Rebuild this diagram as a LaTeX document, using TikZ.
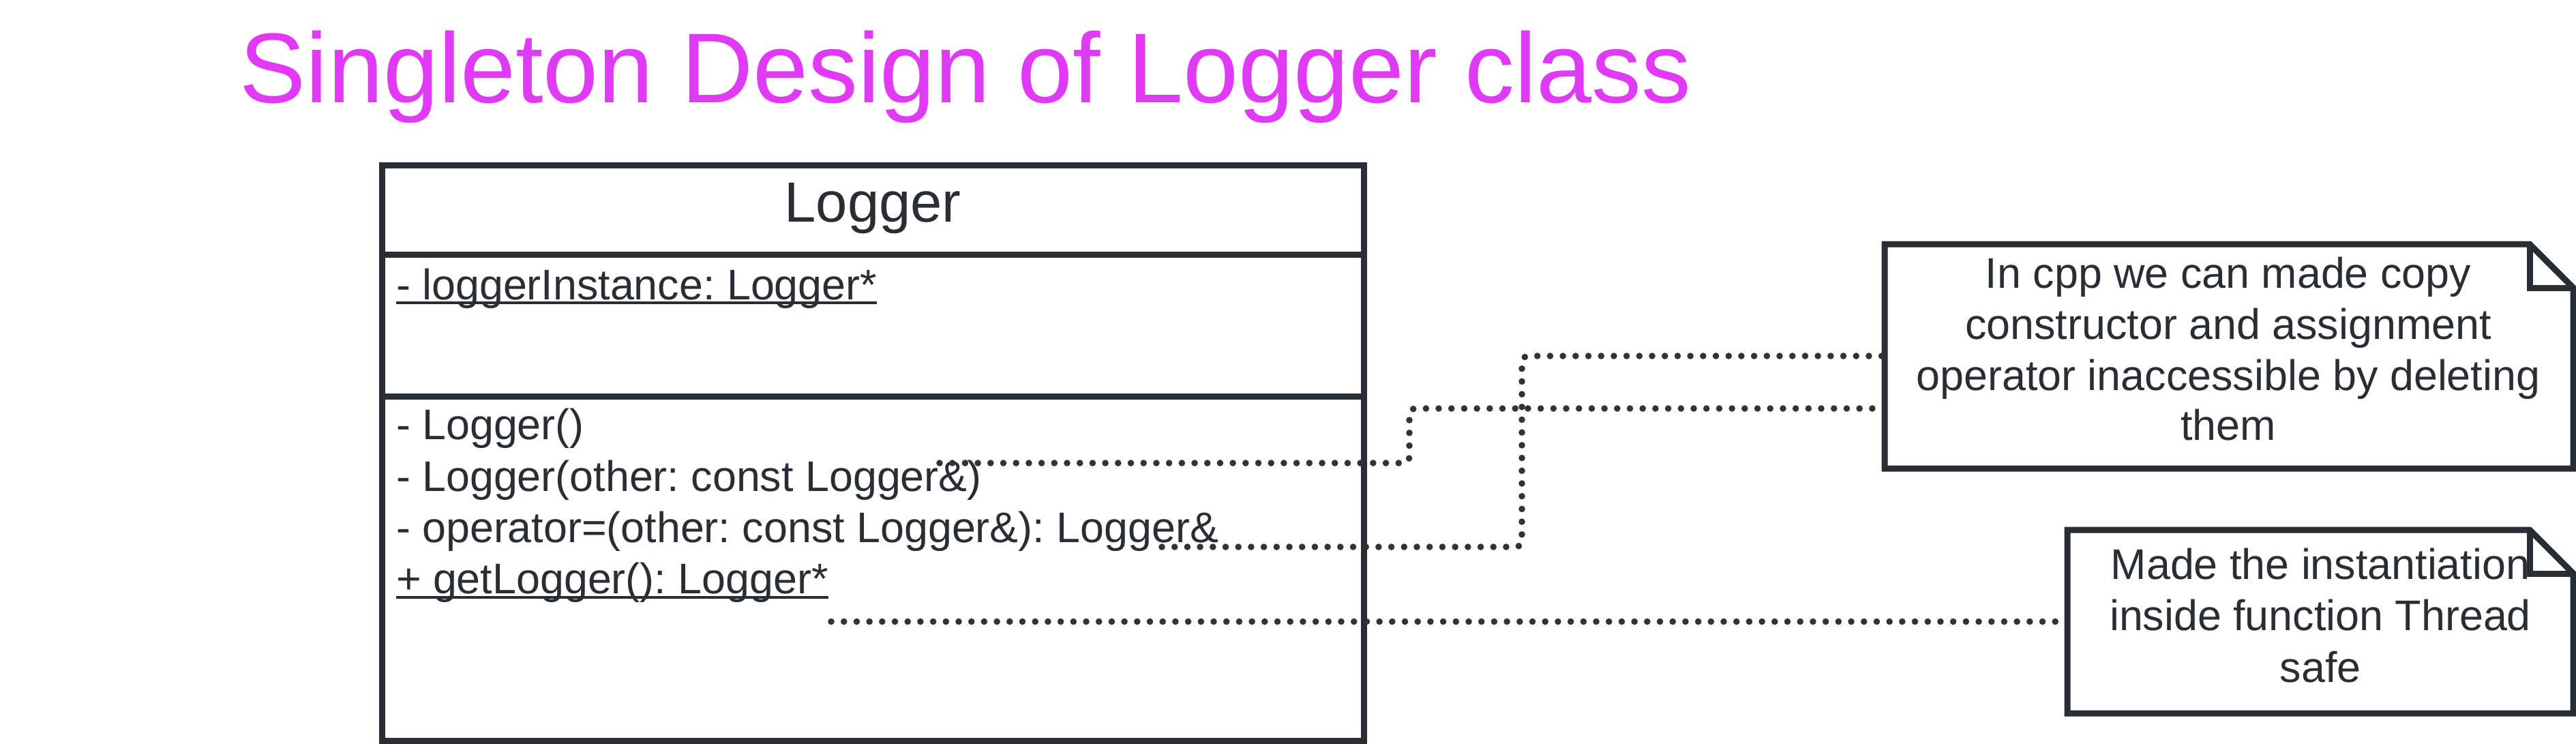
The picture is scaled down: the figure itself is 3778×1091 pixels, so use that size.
\documentclass[tikz,border=0pt]{standalone}
\usepackage{fontspec}
\setmainfont{Liberation Sans}
\frenchspacing
\definecolor{clsline}{RGB}{41,45,52}
\definecolor{dotcol}{RGB}{51,51,51}
\definecolor{titlecol}{RGB}{224,58,246}
\tikzset{
  ink/.style={draw=clsline, line width=2.25pt},
  compart/.style={ink, rectangle, inner sep=0pt, outer sep=0pt, minimum width=359.875pt},
  txt/.style={inner sep=0pt, outer sep=0pt, text=clsline, font=\fontsize{15.7pt}{18.9pt}\selectfont},
  uline/.style={draw=clsline, line width=1pt},
  dotline/.style={draw=dotcol, line width=2.4pt, line cap=round, dash pattern=on 0pt off 4.675pt, rounded corners=2.25pt},
  notebody/.style={rectangle, inner sep=0pt, outer sep=0pt},
}
\begin{document}
\begin{tikzpicture}[x=0.25pt, y=-0.25pt]
\useasboundingbox (0,0) rectangle (3778,1091);
% title
\node[anchor=base west, inner sep=0pt, text=titlecol, font=\fontsize{36.4pt}{44pt}\selectfont] (title) at (351,151) {Singleton Design of Logger class};
% class box
\node[compart, minimum height=32.5pt] (head) at (1280.25,308) {};
\node[compart, minimum height=52pt] (attrs) at (1280.25,477) {};
\node[compart, minimum height=126.375pt] (meths) at (1280.25,833.75) {};
\node[anchor=base, inner sep=0pt, text=clsline, font=\fontsize{20.8pt}{25pt}\selectfont] (hname) at (1280,325) {Logger};
\node[txt, anchor=base west] (a1) at (581,439) {- loggerInstance: Logger*};
\draw[uline] ([yshift=-1.25pt]a1.base west) -- ([yshift=-1.25pt]a1.base east);
\node[txt, anchor=base west] (m1) at (581,644) {- Logger()};
\node[txt, anchor=base west] (m2) at (581,720) {- Logger(other: const Logger\&)};
\node[txt, anchor=base west] (m3) at (581,795.5) {- operator=(other: const Logger\&): Logger\&};
\node[txt, anchor=base west] (m4) at (581,870.5) {+ getLogger(): Logger*};
\draw[uline] ([yshift=-1.25pt]m4.base west) -- ([yshift=-1.25pt]m4.base east);
% note 1
\node[notebody, minimum width=252.5pt, minimum height=82.25pt] (n1) at (3269,522.5) {};
\draw[ink] (n1.south west) -- (n1.north west) -- ([xshift=-16pt]n1.north east) -- ([yshift=-16pt]n1.north east) -- (n1.south east) -- cycle;
\draw[ink] ([xshift=-16pt]n1.north east) |- ([yshift=-16pt]n1.north east);
\node[txt, anchor=base] (n1a) at (3268,422) {In cpp we can made copy};
\node[txt, anchor=base] (n1b) at (3268,497) {constructor and assignment};
\node[txt, anchor=base] (n1c) at (3268,572.5) {operator inaccessible by deleting};
\node[txt, anchor=base] (n1d) at (3268,645.5) {them};
% note 2
\node[notebody, minimum width=185.5pt, minimum height=67.25pt] (n2) at (3403,911.5) {};
\draw[ink] (n2.south west) -- (n2.north west) -- ([xshift=-16pt]n2.north east) -- ([yshift=-16pt]n2.north east) -- (n2.south east) -- cycle;
\draw[ink] ([xshift=-16pt]n2.north east) |- ([yshift=-16pt]n2.north east);
\node[txt, anchor=base] (n2a) at (3403,849) {Made the instantiation};
\node[txt, anchor=base] (n2b) at (3403,924.5) {inside function Thread};
\node[txt, anchor=base] (n2c) at (3403,1000) {safe};
% connectors
\coordinate (c1) at (1378,679);
\coordinate (c2) at (1704,802);
\coordinate (c3) at (1219,911.5);
\draw[dotline] (c1) -- (2067,679) -- (2067,599) -- (n1.west |- 0,599);
\draw[dotline] (c2) -- (2232,802) -- (2232,522) -- (n1.west |- 0,522);
\draw[dotline] (c3) -- (n2.west);
\end{tikzpicture}
\end{document}
